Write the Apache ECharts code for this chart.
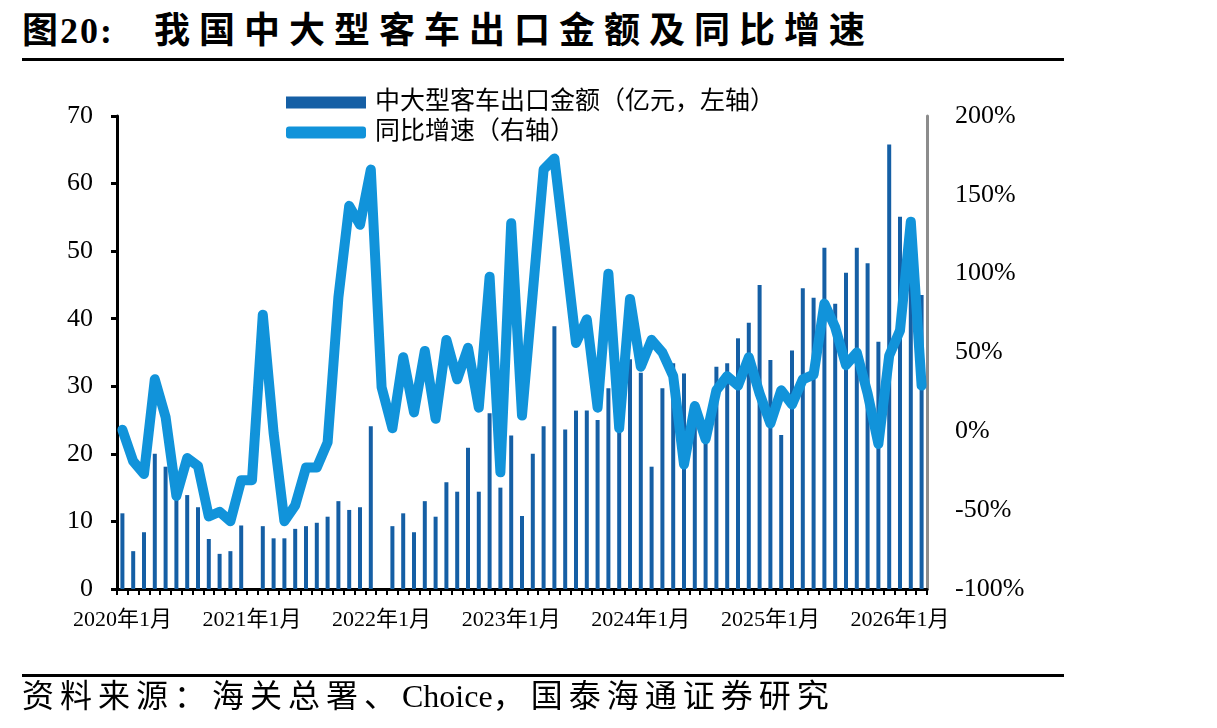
<!doctype html>
<html lang="zh-CN">
<head>
  <meta charset="UTF-8">
  <title>我国中大型客车出口金额及同比增速</title>
  <style>
    body { margin: 0; background: #fff; }
    #wrap { position: relative; width: 1217px; height: 728px; overflow: hidden; }
    #chart { position: absolute; left: 0; top: 0; width: 1217px; height: 728px; }
    .title {
      position: absolute; left: 22px; top: 9px; white-space: nowrap;
      font: bold 36px 'Liberation Serif', 'Noto Sans CJK SC'; line-height: 44px;
    }
    .rule { position: absolute; left: 22px; width: 1042px; height: 3px; background: #000; }
    .source {
      position: absolute; left: 22px; top: 676px; white-space: nowrap;
      font: 32px 'Liberation Serif', 'Noto Sans CJK SC'; line-height: 40px;
    }
    .wide { letter-spacing: 6px; }
  </style>
  <script src="https://cdn.jsdelivr.net/npm/echarts@6.0.0/dist/echarts.min.js"></script>
</head>
<body>
  <div id="wrap">
    <div class="title"><span style="letter-spacing:2px">图20:</span><span style="letter-spacing:9px;margin-left:40px">我国中大型客车出口金额及同比增速</span></div>
    <div class="rule" style="top:58px"></div>
    <div id="chart"></div>
    <div class="rule" style="top:674px"></div>
    <div class="source"><span class="wide">资料来源：海关总署、</span>Choice<span class="wide">，国泰海通证券研究</span></div>
  </div>
  <script>
    // 月份 2020年1月 - 2026年3月
    var months = [
      '2020年1月', '2020年2月', '2020年3月', '2020年4月', '2020年5月', '2020年6月', '2020年7月', '2020年8月', '2020年9月', '2020年10月', '2020年11月', '2020年12月',
      '2021年1月', '2021年2月', '2021年3月', '2021年4月', '2021年5月', '2021年6月', '2021年7月', '2021年8月', '2021年9月', '2021年10月', '2021年11月', '2021年12月',
      '2022年1月', '2022年2月', '2022年3月', '2022年4月', '2022年5月', '2022年6月', '2022年7月', '2022年8月', '2022年9月', '2022年10月', '2022年11月', '2022年12月',
      '2023年1月', '2023年2月', '2023年3月', '2023年4月', '2023年5月', '2023年6月', '2023年7月', '2023年8月', '2023年9月', '2023年10月', '2023年11月', '2023年12月',
      '2024年1月', '2024年2月', '2024年3月', '2024年4月', '2024年5月', '2024年6月', '2024年7月', '2024年8月', '2024年9月', '2024年10月', '2024年11月', '2024年12月',
      '2025年1月', '2025年2月', '2025年3月', '2025年4月', '2025年5月', '2025年6月', '2025年7月', '2025年8月', '2025年9月', '2025年10月', '2025年11月', '2025年12月',
      '2026年1月', '2026年2月', '2026年3月'
    ];

    // 中大型客车出口金额（亿元）
    var exportValue = [
      11.2, 5.6, 8.4, 20.0, 18.1, 15.0, 13.9, 12.1, 7.4, 5.2, 5.6, 9.4,
      null, 9.3, 7.5, 7.5, 8.9, 9.3, 9.8, 10.7, 13.0, 11.7, 12.1, 24.1,
      null, 9.3, 11.2, 8.4, 13.0, 10.7, 15.8, 14.4, 20.9, 14.4, 26.0, 15.0,
      22.7, 10.8, 20.0, 24.1, 38.9, 23.6, 26.4, 26.4, 25.0, 29.7, 24.0, 34.0,
      32.0, 18.1, 29.7, 33.4, 31.9, 27.7, 25.0, 32.9, 33.4, 37.1, 39.4, 45.0,
      33.9, 22.8, 35.3, 44.5, 43.1, 50.5, 42.2, 46.8, 50.5, 48.2, 36.6, 65.8,
      55.1, 52.0, 43.5
    ];

    // 同比增速（%）
    var yoy = [
      1, -19, -27, 33, 9, -41, -17, -22, -54, -51, -57, -31,
      -31, 74, -1, -57, -47, -23, -23, -7, 85, 143, 131, 166,
      28, 2, 47, 12, 51, 8, 58, 33, 53, 15, 98, -26,
      132, 10, 88, 166, 173, 115, 56, 71, 15, 100, 2, 84,
      41, 58, 50, 35, -21, 16, -5, 26, 35, 29, 47, 24,
      5, 26, 17, 33, 36, 81, 66, 42, 50, 24, -8, 48,
      64, 133, 29
    ];

    var leftTicks = [0, 70, 10];
    var rightTicks = [-100, 200, 50];

    var serif = "'Liberation Serif', 'Noto Sans CJK SC'";
    var myChart = echarts.init(document.getElementById('chart'));

    var option = {
      animation: false,
      grid: { left: 117, right: 290, top: 116, bottom: 139 },
      legend: {
        orient: 'vertical',
        left: 281,
        top: 85,
        itemWidth: 80,
        itemHeight: 12,
        itemGap: 5,
        textStyle: { fontSize: 25, color: '#000', fontFamily: serif, padding: [0, 0, 0, 4] },
        data: [
          { name: '中大型客车出口金额（亿元，左轴）', icon: 'rect' },
          { name: '同比增速（右轴）', icon: 'roundRect' }
        ]
      },
      xAxis: {
        type: 'category',
        data: months,
        axisLine: { lineStyle: { color: '#000', width: 3 } },
        axisTick: { show: true, interval: 0, length: 6, lineStyle: { color: '#000', width: 2 } },
        axisLabel: {
          interval: function (i) { return i % 12 === 0; },
          margin: 20,
          fontSize: 22,
          color: '#000',
          fontFamily: serif
        }
      },
      yAxis: [{
        type: 'value',
        min: leftTicks[0],
        max: leftTicks[1],
        interval: leftTicks[2],
        splitLine: { show: false },
        axisLine: { show: true, lineStyle: { color: '#000', width: 3 } },
        axisTick: { show: true, length: 6, lineStyle: { color: '#000', width: 3 } },
        axisLabel: { fontSize: 26, color: '#000', margin: 24, fontFamily: serif }
      }, {
        type: 'value',
        min: rightTicks[0],
        max: rightTicks[1],
        interval: rightTicks[2],
        splitLine: { show: false },
        axisLine: { show: true, lineStyle: { color: '#8c8c8c', width: 3 } },
        axisTick: { show: false },
        axisLabel: { fontSize: 26, color: '#000', margin: 28, fontFamily: serif, formatter: '{value}%' }
      }],
      series: [{
        name: '中大型客车出口金额（亿元，左轴）',
        type: 'bar',
        yAxisIndex: 0,
        barWidth: 4,
        itemStyle: { color: '#155fa5' },
        data: exportValue
      }, {
        name: '同比增速（右轴）',
        type: 'line',
        yAxisIndex: 1,
        symbol: 'none',
        z: 5,
        lineStyle: { color: '#1193da', width: 10, cap: 'round', join: 'round' },
        itemStyle: { color: '#1193da' },
        data: yoy
      }]
    };

    myChart.setOption(option);
  </script>
</body>
</html>
